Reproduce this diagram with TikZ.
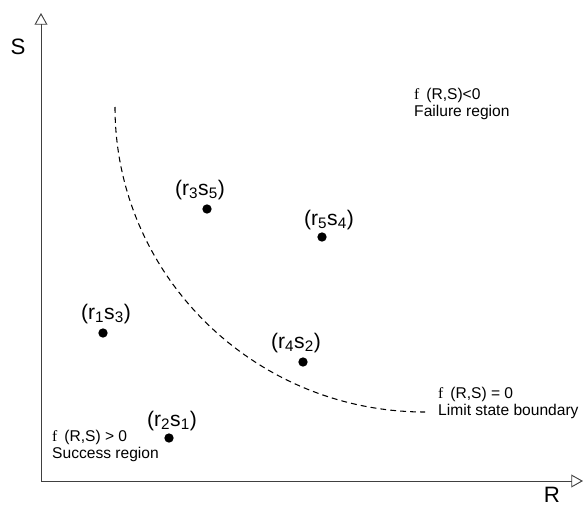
\documentclass[tikz,border=0pt]{standalone}
\usepackage{fontspec}
\setmainfont{Liberation Sans}
\newfontfamily\fserif{Liberation Serif}
\usetikzlibrary{arrows.meta}
\newcommand\sbs[1]{\textsubscript{\fontsize{13}{13}\selectfont #1}}

\begin{document}
\begin{tikzpicture}[
            x=0.03cm, y=-0.03cm,
            axis/.style={draw=black!75, line width=0.8pt, -{Triangle[open, length=10pt, width=11pt]}},
            axlbl/.style={font=\fontsize{19}{21}\selectfont, inner sep=0pt},
            limit/.style={line width=0.9pt, dash pattern=on 5pt off 3.5pt},
            pt/.style={circle, fill=black, inner sep=0pt, minimum size=0.28cm},
            ptlbl/.style={font=\fontsize{18}{20}\selectfont, inner sep=0pt, anchor=base},
            region/.style={font=\fontsize{13.3}{15.3}\selectfont, align=left, anchor=west, inner sep=0pt}
        ]
            \useasboundingbox (0,0) rectangle (588,506);

            % Ejes
            \coordinate (o) at (41,481);
            \coordinate (ytop) at (41,13);
            \coordinate (xend) at (583,481);
            \draw [axis] (o) -- (ytop);
            \draw [axis] (o) -- (xend);
            \node (S) [axlbl] at (18,47) {S};
            \node (R) [axlbl] at (552,495) {R};

            % Frontera del estado limite
            \coordinate (cstart) at (115,107);
            \coordinate (cend) at (425,412);
            \draw [limit] (cstart) .. controls (115,275) and (254,412) .. (cend);

            % Puntos de muestra
            \node (p35) [pt] at (207,209) {};
            \node (p54) [pt] at (322,237) {};
            \node (p13) [pt] at (103,333) {};
            \node (p42) [pt] at (303,362) {};
            \node (p21) [pt] at (169,438) {};
            \node (l35) [ptlbl] at (200,195) {(r\sbs{3}s\sbs{5})};
            \node (l54) [ptlbl] at (329,225) {(r\sbs{5}s\sbs{4})};
            \node (l13) [ptlbl] at (106,319) {(r\sbs{1}s\sbs{3})};
            \node (l42) [ptlbl] at (296,348) {(r\sbs{4}s\sbs{2})};
            \node (l21) [ptlbl] at (172,426) {(r\sbs{2}s\sbs{1})};

            % Regiones
            \node (fail) [region] at (414,104) {{\fserif f}\, (R,S)<0\\Failure region};
            \node (bound) [region] at (438,403) {{\fserif f}\, (R,S) = 0\\Limit state boundary};
            \node (succ) [region] at (52,446) {{\fserif f}\, (R,S) > 0\\Success region};

        \end{tikzpicture}
\end{document}
